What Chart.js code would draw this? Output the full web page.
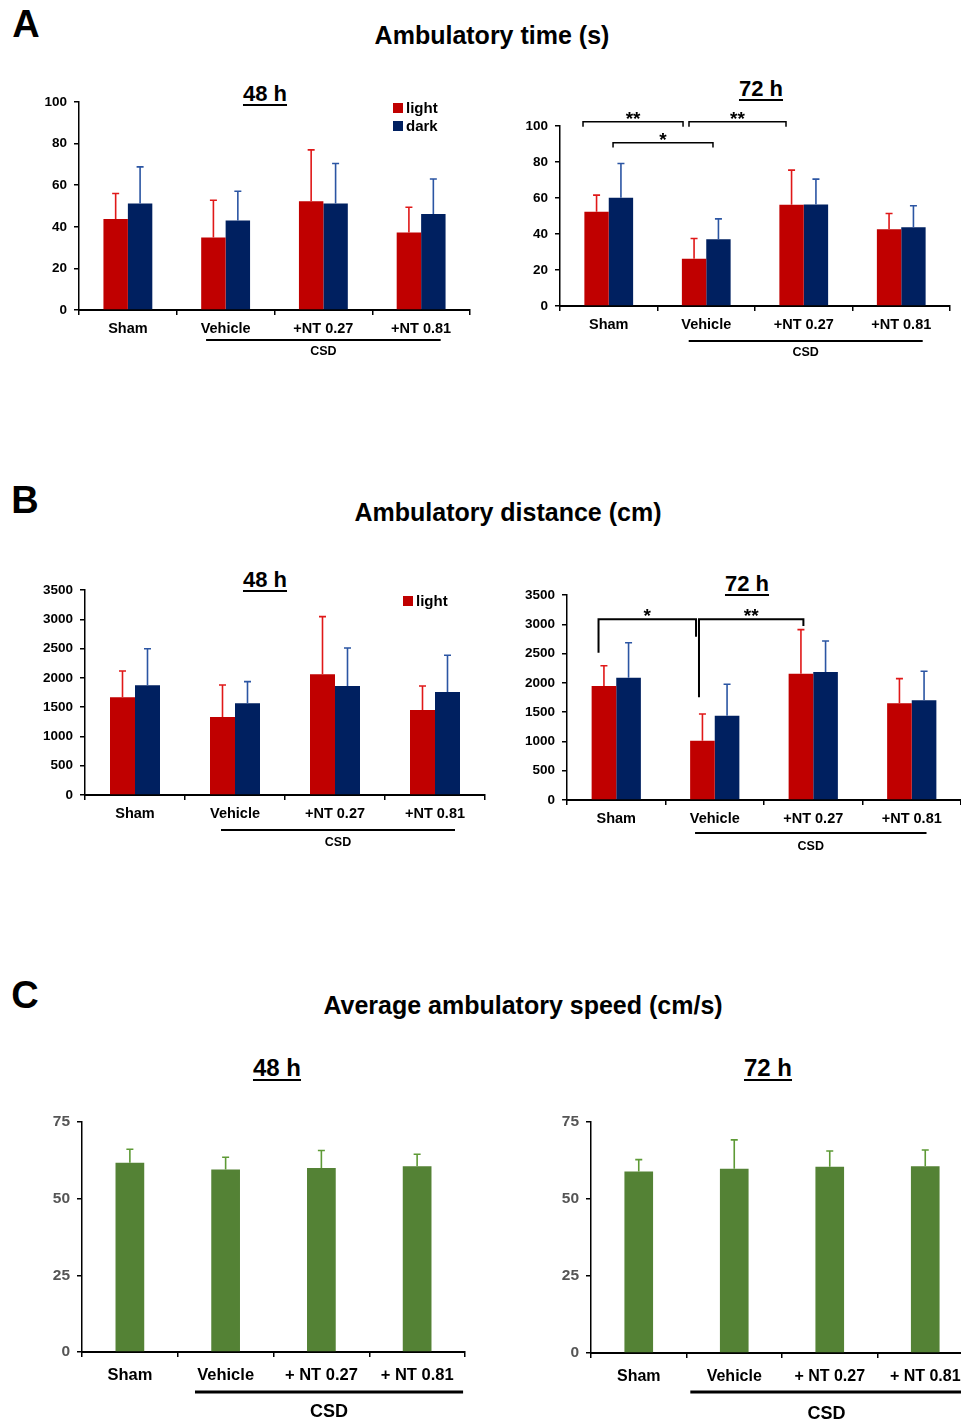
<!DOCTYPE html>
<html>
<head>
<meta charset="utf-8">
<script src="https://cdn.jsdelivr.net/npm/chart.js@4.4.1/dist/chart.umd.min.js"></script>
<style>
html,body{margin:0;padding:0;background:#fff;}
#page{position:relative;width:961px;height:1423px;overflow:hidden;font-family:"Liberation Sans",Arial,sans-serif;background:#fff;}
.t{position:absolute;font-weight:bold;color:#000;white-space:nowrap;transform:translate(-50%,-50%);line-height:1;}
.u{text-decoration:underline;text-decoration-thickness:2px;text-underline-offset:3px;}
canvas{position:absolute;}
</style>
</head>
<body>
<div id="page">
  <div class="t" style="left:26px;top:24px;font-size:38px;">A</div>
  <div class="t" style="left:25px;top:500px;font-size:38px;">B</div>
  <div class="t" style="left:25px;top:995px;font-size:38px;">C</div>
  <div class="t" style="left:492px;top:35px;font-size:25px;">Ambulatory time (s)</div>
  <div class="t" style="left:508px;top:512px;font-size:25px;">Ambulatory distance (cm)</div>
  <div class="t" style="left:523px;top:1005px;font-size:25px;">Average ambulatory speed (cm/s)</div>
  <div class="t u" style="left:265px;top:94px;font-size:22px;">48 h</div>
  <div class="t u" style="left:761px;top:89px;font-size:22px;">72 h</div>
  <div class="t u" style="left:265px;top:580px;font-size:22px;">48 h</div>
  <div class="t u" style="left:747px;top:584px;font-size:22px;">72 h</div>
  <div class="t u" style="left:277px;top:1068px;font-size:24px;">48 h</div>
  <div class="t u" style="left:768px;top:1068px;font-size:24px;">72 h</div>
  <canvas id="a48"></canvas>
  <canvas id="a72"></canvas>
  <canvas id="b48"></canvas>
  <canvas id="b72"></canvas>
  <canvas id="c48"></canvas>
  <canvas id="c72"></canvas>
</div>
<script>
// ---------- DATA ----------
const CATS_AB = ['Sham', 'Vehicle', '+NT 0.27', '+NT 0.81'];
const CATS_C = ['Sham', 'Vehicle', '+ NT 0.27', '+ NT 0.81'];
const SERIES = ['light', 'dark'];

// A: Ambulatory time (s)
const timeLight48 = [43.8, 34.9, 52.3, 37.3];
const timeLight48Err = [12.2, 17.9, 24.7, 12.1];
const timeDark48 = [51.2, 43.0, 51.2, 46.2];
const timeDark48Err = [17.6, 14.1, 19.2, 16.8];
const timeLight72 = [52.3, 26.3, 56.2, 42.7];
const timeLight72Err = [9.3, 11.2, 19.3, 8.7];
const timeDark72 = [60.1, 37.1, 56.4, 43.8];
const timeDark72Err = [19.1, 11.3, 14.1, 11.9];
const timeTicks = [0, 20, 40, 60, 80, 100];

// B: Ambulatory distance (cm)
const distLight48 = [1667, 1332, 2060, 1451];
const distLight48Err = [450, 546, 985, 410];
const distDark48 = [1872, 1565, 1861, 1759];
const distDark48Err = [626, 370, 649, 626];
const distLight72 = [1946, 1013, 2157, 1650];
const distLight72Err = [347, 455, 751, 422];
const distDark72 = [2089, 1440, 2185, 1702];
const distDark72Err = [597, 535, 530, 495];
const distTicks = [0, 500, 1000, 1500, 2000, 2500, 3000, 3500];

// C: Average ambulatory speed (cm/s)
const speed48 = [61.7, 59.5, 60.0, 60.6];
const speed48Err = [4.4, 4.0, 5.7, 3.9];
const speed72 = [58.9, 59.8, 60.5, 60.6];
const speed72Err = [3.9, 9.4, 5.1, 5.3];
const speedTicks = [0, 25, 50, 75];

// ---------- STYLE ----------
const FONT = '"Liberation Sans", Arial, sans-serif';
const RED = '#C00000', NAVY = '#002060', GREEN = '#548235';
const RED_ERR = '#E01818', NAVY_ERR = '#2B55A3', GREEN_ERR = '#5E9A36';

function xAt(chart, v) {
  const xs = chart.scales.x;
  const p0 = xs.getPixelForValue(0);
  const w = xs.getPixelForValue(1) - p0;
  return p0 + v * w;
}

const errorBarPlugin = {
  id: 'errbars',
  afterDatasetsDraw(chart) {
    const ctx = chart.ctx, ys = chart.scales.y;
    chart.data.datasets.forEach((ds, i) => {
      const meta = chart.getDatasetMeta(i);
      meta.data.forEach((bar, j) => {
        const top = ys.getPixelForValue(ds.data[j] + ds.errors[j]);
        ctx.save();
        ctx.strokeStyle = ds.errorColor;
        ctx.lineWidth = 1.6;
        ctx.beginPath();
        ctx.moveTo(bar.x, bar.y);
        ctx.lineTo(bar.x, top);
        ctx.moveTo(bar.x - 3.5, top);
        ctx.lineTo(bar.x + 3.5, top);
        ctx.stroke();
        ctx.restore();
      });
    });
  }
};

const extrasPlugin = {
  id: 'extras',
  afterDraw(chart, args, opts) {
    const ctx = chart.ctx, ys = chart.scales.y, area = chart.chartArea;
    ctx.save();
    // CSD group line and label
    if (opts.csd) {
      const c = opts.csd;
      const xa = xAt(chart, c.from), xb = xAt(chart, c.to);
      const y = area.bottom + c.dy;
      ctx.strokeStyle = '#000';
      ctx.lineWidth = c.width;
      ctx.beginPath(); ctx.moveTo(xa, y); ctx.lineTo(xb, y); ctx.stroke();
      ctx.fillStyle = '#000';
      ctx.font = 'bold ' + c.size + 'px ' + FONT;
      ctx.textAlign = 'center'; ctx.textBaseline = 'middle';
      ctx.fillText('CSD', (xa + xb) / 2, area.bottom + c.labelDy);
    }
    // significance brackets
    (opts.brackets || []).forEach(b => {
      const xa = xAt(chart, b.from), xb = xAt(chart, b.to);
      const yt = ys.getPixelForValue(b.level);
      ctx.strokeStyle = '#000';
      ctx.lineWidth = b.width || 1.5;
      ctx.beginPath();
      ctx.moveTo(xa, ys.getPixelForValue(b.leftEnd));
      ctx.lineTo(xa, yt); ctx.lineTo(xb, yt);
      ctx.lineTo(xb, ys.getPixelForValue(b.rightEnd));
      ctx.stroke();
      ctx.fillStyle = '#000';
      ctx.font = 'bold 19px ' + FONT;
      ctx.textAlign = 'center'; ctx.textBaseline = 'alphabetic';
      ctx.fillText(b.label, (xa + xb) / 2, yt + 3);
    });
    // legend
    if (opts.legend) {
      const L = opts.legend;
      ctx.font = 'bold 15px ' + FONT;
      ctx.textAlign = 'left'; ctx.textBaseline = 'middle';
      chart.data.datasets.slice(0, L.count).forEach((ds, i) => {
        const cy = area.top + L.dy + i * 18;
        const sx = area.right - L.dx;
        ctx.fillStyle = ds.backgroundColor;
        ctx.fillRect(sx, cy - 5, 10, 10);
        ctx.fillStyle = '#000';
        ctx.fillText(ds.label, sx + 13, cy + 0.5);
      });
    }
    ctx.restore();
  }
};

function makeChart(id, spec) {
  const yw = 50, padTop = 30, padRight = 5, xh = spec.xh || 70;
  const left = spec.x0 - yw, top = spec.y0 - padTop;
  const width = spec.x1 + padRight - left, height = spec.y1 + xh - top;
  const cv = document.getElementById(id);
  cv.style.left = left + 'px'; cv.style.top = top + 'px';
  cv.width = width; cv.height = height;
  cv.style.width = width + 'px'; cv.style.height = height + 'px';
  const ticks = spec.ticks;
  return new Chart(cv, {
    type: 'bar',
    data: { labels: spec.labels, datasets: spec.datasets },
    options: {
      responsive: false,
      animation: false,
      devicePixelRatio: 1,
      layout: { padding: { top: padTop, right: padRight, left: 0, bottom: 0 } },
      datasets: { bar: { categoryPercentage: spec.catPct, barPercentage: 1.0, borderWidth: 0 } },
      plugins: {
        legend: { display: false },
        tooltip: { enabled: false },
        title: { display: false },
        extras: spec.extras
      },
      scales: {
        x: {
          offset: true,
          ticks: { color: '#000', font: { family: FONT, size: spec.xFont, weight: 'bold' }, padding: spec.xPad, maxRotation: 0, autoSkip: false },
          grid: { offset: true, drawOnChartArea: false, drawTicks: true, tickLength: 5, color: '#000', lineWidth: 1.5 },
          border: { color: '#000', width: 2 },
          afterFit: s => { s.height = xh; }
        },
        y: {
          min: ticks[0], max: ticks[ticks.length - 1],
          afterBuildTicks: s => { s.ticks = ticks.map(v => ({ value: v })); },
          ticks: {
            color: spec.yColor || '#000',
            font: { family: FONT, size: spec.yFont, weight: 'bold' },
            padding: 7,
            callback: v => String(v)
          },
          grid: { drawOnChartArea: false, drawTicks: true, tickLength: 5, color: '#000', lineWidth: 1.5 },
          border: { color: '#000', width: 1.5 },
          afterFit: s => { s.width = yw; }
        }
      }
    },
    plugins: [errorBarPlugin, extrasPlugin]
  });
}

function pair(l, le, d, de) {
  return [
    { label: SERIES[0], data: l, errors: le, backgroundColor: RED, errorColor: RED_ERR },
    { label: SERIES[1], data: d, errors: de, backgroundColor: NAVY, errorColor: NAVY_ERR }
  ];
}

// A 48 h
makeChart('a48', {
  x0: 79, y0: 102, x1: 470, y1: 310, labels: CATS_AB, ticks: timeTicks, catPct: 0.5,
  xFont: 14.5, yFont: 13.5, xPad: 5,
  datasets: pair(timeLight48, timeLight48Err, timeDark48, timeDark48Err),
  extras: { csd: { from: 0.8, to: 3.2, dy: 30, labelDy: 42, width: 2, size: 12.5 }, legend: { dx: 77, dy: 6, count: 2 } }
});
// A 72 h
makeChart('a72', {
  x0: 560, y0: 126, x1: 950, y1: 306, labels: CATS_AB, ticks: timeTicks, catPct: 0.5,
  xFont: 14.5, yFont: 13.5, xPad: 5,
  datasets: pair(timeLight72, timeLight72Err, timeDark72, timeDark72Err),
  extras: {
    csd: { from: 0.82, to: 3.22, dy: 35, labelDy: 47, width: 2, size: 12.5 },
    brackets: [
      { from: -0.264, to: 0.762, level: 102.4, leftEnd: 99.6, rightEnd: 99.6, label: '**' },
      { from: 0.823, to: 1.818, level: 102.4, leftEnd: 99.6, rightEnd: 99.6, label: '**' },
      { from: 0.044, to: 1.069, level: 90.7, leftEnd: 88.0, rightEnd: 88.0, label: '*' }
    ]
  }
});
// B 48 h
makeChart('b48', {
  x0: 85, y0: 590, x1: 485, y1: 795, labels: CATS_AB, ticks: distTicks, catPct: 0.5,
  xFont: 14.5, yFont: 13.5, xPad: 5,
  datasets: pair(distLight48, distLight48Err, distDark48, distDark48Err),
  extras: { csd: { from: 0.86, to: 3.2, dy: 35, labelDy: 48, width: 2, size: 12.5 }, legend: { dx: 82, dy: 11, count: 1 } }
});
// B 72 h
makeChart('b72', {
  x0: 567, y0: 595, x1: 961, y1: 800, labels: CATS_AB, ticks: distTicks, catPct: 0.5,
  xFont: 14.5, yFont: 13.5, xPad: 5,
  datasets: pair(distLight72, distLight72Err, distDark72, distDark72Err),
  extras: {
    csd: { from: 0.8, to: 3.15, dy: 33, labelDy: 47, width: 2, size: 12.5 },
    brackets: [
      { from: -0.18, to: 0.81, level: 3085, leftEnd: 2515, rightEnd: 2789, label: '*', width: 2 },
      { from: 0.84, to: 1.90, level: 3085, leftEnd: 1753, rightEnd: 2971, label: '**', width: 2 }
    ]
  }
});
// C 48 h
makeChart('c48', {
  x0: 82, y0: 1122, x1: 465, y1: 1352, labels: CATS_C, ticks: speedTicks, catPct: 0.3,
  xFont: 16.5, yFont: 15.5, xPad: 9, yColor: '#555', xh: 75,
  datasets: [{ label: 'speed', data: speed48, errors: speed48Err, backgroundColor: GREEN, errorColor: GREEN_ERR }],
  extras: { csd: { from: 0.68, to: 3.48, dy: 40, labelDy: 60, width: 3, size: 18 } }
});
// C 72 h
makeChart('c72', {
  x0: 591, y0: 1122, x1: 973, y1: 1353, labels: CATS_C, ticks: speedTicks, catPct: 0.3,
  xFont: 16, yFont: 15.5, xPad: 9, yColor: '#555', xh: 75,
  datasets: [{ label: 'speed', data: speed72, errors: speed72Err, backgroundColor: GREEN, errorColor: GREEN_ERR }],
  extras: { csd: { from: 0.54, to: 3.39, dy: 39, labelDy: 61, width: 3, size: 18 } }
});
</script>
</body>
</html>
